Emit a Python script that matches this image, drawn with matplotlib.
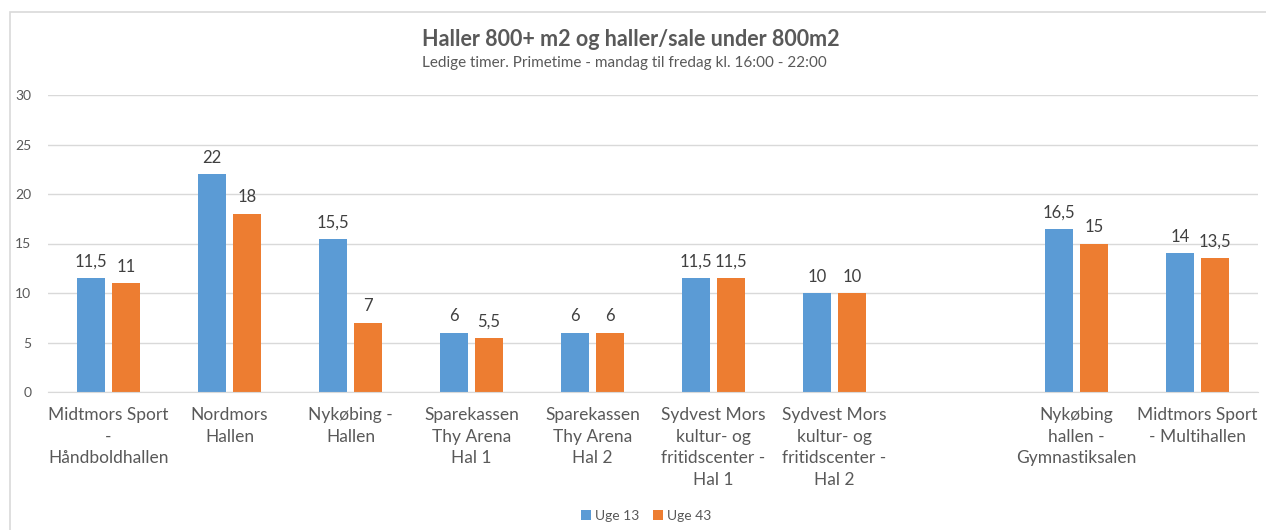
import numpy as np
import matplotlib
matplotlib.use("Agg")
import matplotlib.pyplot as plt
from matplotlib.patches import Rectangle, Patch

plt.rcParams['font.family'] = ['Lato', 'DejaVu Sans']

categories = [
    "Midtmors Sport\n-\nHåndboldhallen",
    "Nordmors\nHallen",
    "Nykøbing -\nHallen",
    "Sparekassen\nThy Arena\nHal 1",
    "Sparekassen\nThy Arena\nHal 2",
    "Sydvest Mors\nkultur- og\nfritidscenter -\nHal 1",
    "Sydvest Mors\nkultur- og\nfritidscenter -\nHal 2",
    "",
    "Nykøbing\nhallen -\nGymnastiksalen",
    "Midtmors Sport\n- Multihallen",
]
uge13 = [11.5, 22, 15.5, 6, 6, 11.5, 10, np.nan, 16.5, 14]
uge43 = [11, 18, 7, 5.5, 6, 11.5, 10, np.nan, 15, 13.5]
series_names = ["Uge 13", "Uge 43"]
yticks = [0, 5, 10, 15, 20, 25, 30]

BLUE = "#5B9BD5"
ORANGE = "#ED7D31"
TXT = "#595959"
GRID = "#D9D9D9"

W, H = 1266, 530
fig = plt.figure(figsize=(W / 100, H / 100), dpi=100)
fig.patch.set_facecolor("white")

# chart border
fig.patches.append(Rectangle((10 / W, -0.05), 1.2, 1.05 - 12 / H, transform=fig.transFigure,
                             facecolor="none", edgecolor=GRID, linewidth=1.2))

ax = fig.add_axes([48 / W, 1 - 392 / H, (1258 - 48) / W, (392 - 95) / H])
x = np.arange(len(categories))
bw = 0.23
off = 0.145
b1 = ax.bar(x - off, uge13, bw, color=BLUE, zorder=3)
b2 = ax.bar(x + off, uge43, bw, color=ORANGE, zorder=3)

def fmt(v):
    s = f"{v:g}"
    return s.replace(".", ",")

for bars, vals in ((b1, uge13), (b2, uge43)):
    for rect, v in zip(bars, vals):
        if np.isnan(v):
            continue
        ax.annotate(fmt(v), (rect.get_x() + rect.get_width() / 2, v),
                    xytext=(0, 6), textcoords="offset points",
                    ha="center", va="bottom", fontsize=12, color="#404040")

ax.set_xlim(-0.5, len(categories) - 0.5)
ax.set_ylim(0, 30)
ax.set_yticks(yticks)
ax.set_yticklabels([str(t) for t in yticks], fontsize=10, color=TXT)
ax.set_xticks(x)
ax.set_xticklabels(categories, fontsize=12.5, color=TXT, linespacing=1.42)
ax.tick_params(axis="both", length=0)
ax.tick_params(axis="y", pad=12)
ax.tick_params(axis="x", pad=11)
ax.grid(axis="y", color=GRID, linewidth=1, zorder=0)
for s in ["top", "right", "left"]:
    ax.spines[s].set_visible(False)
ax.spines["bottom"].set_color(GRID)
ax.spines["bottom"].set_zorder(4)

fig.text(631 / W, 1 - 40 / H, "Haller 800+ m2 og haller/sale under 800m2",
         ha="center", va="center", fontsize=15.5, fontweight="bold", color=TXT)
fig.text(624 / W, 1 - 63 / H, "Ledige timer. Primetime - mandag til fredag kl. 16:00 - 22:00",
         ha="center", va="center", fontsize=11, color=TXT)

handles = [Patch(facecolor=BLUE, label=series_names[0]),
           Patch(facecolor=ORANGE, label=series_names[1])]
fig.legend(handles=handles, loc="center", bbox_to_anchor=(646 / W, 1 - 516 / H), ncol=2,
           frameon=False, fontsize=10, handlelength=0.7, handleheight=0.7,
           handletextpad=0.3, columnspacing=1.0, labelcolor=TXT)

fig.savefig("out.png", dpi=100, facecolor="white")
